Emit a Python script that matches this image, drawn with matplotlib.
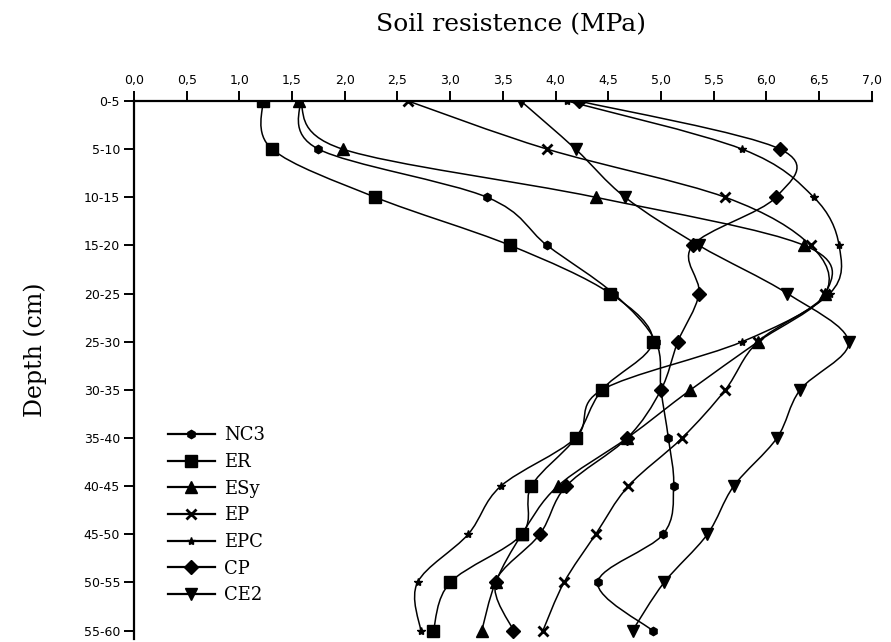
import numpy as np
import matplotlib
matplotlib.use("Agg")
import matplotlib.pyplot as plt
from matplotlib.path import Path
from matplotlib.patches import PathPatch
from matplotlib.lines import Line2D

# depth classes (cm) and soil resistance (MPa) per treatment
depths = ["0-5", "5-10", "10-15", "15-20", "20-25", "25-30",
          "30-35", "35-40", "40-45", "45-50", "50-55", "55-60"]

nc3 = [1.57, 1.75, 3.35, 3.92, 4.55, 4.95, 5.00, 5.07, 5.12, 5.02, 4.40, 4.92]
er  = [1.22, 1.31, 2.29, 3.57, 4.52, 4.92, 4.44, 4.19, 3.77, 3.68, 3.00, 2.84]
esy = [1.57, 1.98, 4.38, 6.36, 6.56, 5.92, 5.28, 4.68, 4.02, 3.68, 3.43, 3.30]
ep  = [2.60, 3.92, 5.61, 6.42, 6.56, 5.92, 5.61, 5.20, 4.69, 4.38, 4.08, 3.88]
epc = [4.11, 5.77, 6.45, 6.69, 6.60, 5.77, 4.44, 4.19, 3.48, 3.17, 2.69, 2.72]
cp  = [4.22, 6.13, 6.09, 5.30, 5.36, 5.16, 5.00, 4.68, 4.10, 3.85, 3.43, 3.60]
ce2 = [3.67, 4.19, 4.66, 5.36, 6.20, 6.78, 6.32, 6.10, 5.69, 5.44, 5.03, 4.73]

names = ["NC3", "ER", "ESy", "EP", "EPC", "CP", "CE2"]
series = [nc3, er, esy, ep, epc, cp, ce2]
markers = ["h", "s", "^", "x", "*", "D", "v"]
msizes = [6, 8, 8, 7, 6, 7, 8]


def smooth_path(xs, ys):
    # Excel-like smoothed line: cubic Bezier segments through the points
    pts = np.column_stack([xs, ys]).astype(float)
    n = len(pts)
    verts, codes = [pts[0]], [Path.MOVETO]
    for i in range(n - 1):
        p0 = pts[i - 1] if i > 0 else pts[i]
        p1, p2 = pts[i], pts[i + 1]
        p3 = pts[i + 2] if i + 2 < n else pts[i + 1]
        verts += [p1 + (p2 - p0) / 6, p2 - (p3 - p1) / 6, p2]
        codes += [Path.CURVE4] * 3
    return Path(verts, codes)


fig = plt.figure(figsize=(8.91, 6.42), dpi=100)
ax = fig.add_axes([0.1504, 0.005, 0.828, 0.8377])

ypos = np.arange(len(depths))
handles = []
for name, vals, m, ms in zip(names, series, markers, msizes):
    ax.add_patch(PathPatch(smooth_path(vals, ypos), fill=False,
                           edgecolor="black", lw=1.1, zorder=2))
    ax.plot(vals, ypos, linestyle="none", marker=m, ms=ms, color="black",
            mew=2 if m == "x" else 1, zorder=3)
    handles.append(Line2D([], [], color="black", lw=1.6, marker=m, ms=ms,
                          mew=2 if m == "x" else 1))

ax.set_xlim(0, 7)
ax.set_ylim(11.17, 0)
ax.xaxis.tick_top()
ax.set_xticks(np.arange(0, 7.01, 0.5))
ax.set_xticklabels([f"{v:.1f}".replace(".", ",") for v in np.arange(0, 7.01, 0.5)])
ax.set_yticks(ypos)
ax.set_yticklabels(depths)
for s in ["right", "bottom"]:
    ax.spines[s].set_visible(False)
for s in ["left", "top"]:
    ax.spines[s].set_linewidth(1.6)
ax.tick_params(axis="both", direction="out", length=7, width=1.4,
               labelsize=9, colors="black", pad=3)

fig.text(0.573, 0.962, "Soil resistence (MPa)", ha="center", va="center",
         family="DejaVu Serif", fontsize=18)
fig.text(0.04, 0.455, "Depth (cm)", ha="center", va="center", rotation=90,
         family="DejaVu Serif", fontsize=17)

ax.legend(handles, names, loc="upper left", bbox_to_anchor=(0.046, 0.395),
          frameon=False, prop={"family": "DejaVu Serif", "size": 13},
          handlelength=2.6, labelspacing=0.48, handletextpad=0.5,
          borderaxespad=0, borderpad=0)

fig.savefig("out.png", dpi=100)
